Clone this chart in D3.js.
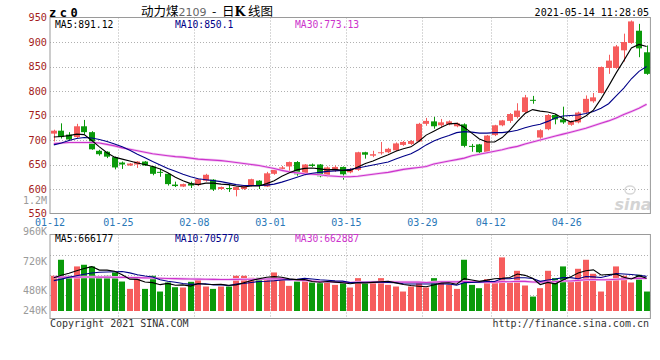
<!DOCTYPE html>
<html><head><meta charset="utf-8">
<script src="https://cdn.jsdelivr.net/npm/d3@7"></script>
<style>
html,body{margin:0;padding:0;background:#fff;}
svg{display:block;}
</style></head><body>
<svg id="chart" width="660" height="360"></svg>
<script>
// ---------------- data ----------------
const dates = ["01-12","01-13","01-14","01-15","01-18","01-19","01-20","01-21","01-22",
"01-25","01-26","01-27","01-28","01-29","02-01","02-02","02-03","02-04","02-05",
"02-08","02-09","02-10","02-18","02-19","02-22","02-23","02-24","02-25","02-26",
"03-01","03-02","03-03","03-04","03-05","03-08","03-09","03-10","03-11","03-12",
"03-15","03-16","03-17","03-18","03-19","03-22","03-23","03-24","03-25","03-26",
"03-29","03-30","03-31","04-01","04-02","04-06","04-07","04-08","04-09",
"04-12","04-13","04-14","04-15","04-16","04-19","04-20","04-21","04-22","04-23",
"04-26","04-27","04-28","04-29","04-30","05-06","05-07","05-10","05-11","05-12","05-14"];
const open  = [713,719,711,706,728,716,678,676,665,654,648,650,656,646,635,631,609,605,611,608,617,619,600,602,598,600,607,617,605,631,641,646,655,630,650,650,626,638,645,634,639,675,668,673,675,679,690,692,697,733,738,730,732,728,732,688,691,674,710,730,739,747,757,782,705,722,751,742,731,736,756,779,796,847,847,883,898,923,879];
const high  = [721,734,716,733,741,718,680,677,666,656,653,657,657,647,641,632,615,611,615,621,631,620,605,609,605,608,621,618,635,640,647,656,657,651,652,651,646,648,646,643,676,676,678,696,684,695,698,700,735,745,747,743,740,736,734,692,692,710,731,741,755,775,792,790,722,753,753,768,740,758,791,796,850,874,894,917,944,937,893];
const low   = [697,703,699,704,712,680,668,663,640,641,647,643,647,628,625,607,604,604,602,606,615,596,598,594,585,598,605,600,604,629,637,635,627,628,645,624,624,635,619,632,637,662,665,670,673,677,688,690,696,729,723,726,730,726,685,676,673,672,708,728,735,744,755,774,697,720,732,733,729,734,754,776,795,835,845,860,896,869,833];
const close = [719,706,701,728,716,681,671,666,644,650,652,656,648,631,633,610,606,610,607,620,629,599,604,601,604,607,620,607,632,639,644,655,630,650,647,626,644,645,630,641,675,670,671,675,682,693,696,698,733,739,728,736,738,734,688,686,675,709,730,740,753,760,787,780,720,751,742,736,738,756,784,787,849,862,891,900,942,887,835];
const volume = [718000,1045000,718000,909000,943000,909000,690000,718000,786000,601000,451000,670000,451000,718000,397000,581000,485000,479000,595000,670000,499000,451000,499000,499000,718000,718000,677000,677000,649000,786000,649000,513000,601000,663000,581000,567000,595000,533000,601000,479000,670000,567000,601000,670000,533000,499000,397000,499000,601000,479000,670000,601000,533000,451000,1045000,533000,465000,649000,601000,1093000,601000,820000,520000,294000,465000,820000,670000,909000,615000,861000,1045000,759000,397000,656000,909000,718000,581000,738000,397000];
const ma5  = [706,707,709,712,711,699,686,674,665,661,657,653,650,646,641,633,624,617,611,609,612,612,610,609,606,604,606,606,611,617,626,633,639,642,643,641,639,640,638,638,645,652,657,664,670,677,682,686,697,710,718,726,733,734,726,714,702,696,696,705,720,738,754,762,759,757,753,744,737,741,749,761,784,810,837,862,888,895,891];
const ma10 = [690,694,699,703,705,704,701,697,692,686,679,671,664,656,649,642,636,630,625,621,619,617,615,612,609,607,607,607,608,610,614,619,624,629,632,634,636,637,638,640,643,646,649,652,655,661,667,672,680,690,698,704,709,715,717,716,714,714,715,715,717,720,725,729,732,738,745,749,750,751,754,758,765,774,790,806,825,840,850];
const ma30 = [693,694,695,695,695,695,694,691,688,684,681,678,675,672,670,668,666,665,663,661,660,659,658,656,654,652,650,648,645,642,638,635,633,631,630,629,627,626,625,625,626,628,630,632,634,637,640,642,644,646,651,654,657,660,663,668,671,674,677,680,684,687,692,696,700,704,708,712,716,720,724,729,734,739,745,752,758,765,773];
const volMa5  = [680,730,770,820,867,905,834,834,809,741,649,645,592,578,537,563,526,532,507,562,546,539,543,524,533,577,622,658,688,701,688,655,640,642,601,585,601,588,575,555,576,570,584,597,608,574,540,520,506,495,529,570,577,547,660,633,605,629,659,668,682,753,727,666,540,584,554,632,696,775,820,838,735,744,753,688,652,720,666].map(v => v * 1000);
const volMa10 = [620,650,690,720,750,775,790,795,800,804,777,740,713,694,639,606,586,562,543,550,555,533,538,516,548,562,581,601,606,617,633,639,649,665,651,637,628,614,609,578,581,586,586,586,582,575,555,552,552,552,552,555,549,527,578,581,588,603,603,664,658,679,678,663,604,633,654,680,681,658,702,696,684,720,764,754,745,728,706].map(v => v * 1000);
const volMa30 = [690,690,690,691,692,692,691,690,688,686,683,680,676,672,668,664,660,656,652,649,646,644,643,643,644,646,648,650,653,657,655,637,633,625,613,601,598,592,586,582,589,586,591,589,594,591,588,589,589,582,588,593,594,593,604,597,590,589,588,598,596,607,604,592,588,596,599,611,612,624,637,643,637,636,649,656,662,670,663].map(v => v * 1000);

const priceTicks = [950,900,850,800,750,700,650,600,550];
const dateTicks = ["01-12","01-25","02-08","03-01","03-15","03-29","04-12","04-26"];
const volTickLabels = ["1.2M","960K","720K","480K","240K"];
const priceLegend = ["MA5:891.12","MA10:850.1","MA30:773.13"];
const volLegend = ["MA5:666177","MA10:705770","MA30:662887"];
const titleCode = "zc0";
const titleName = ["动力煤","2109","  -  日","K"," 线图"];
const stamp = "2021-05-14 11:28:05";

// ---------------- layout ----------------
const L = 50, R = 650.4;
const mainTop = 17.5, mainBot = 213.5;
const volTop = 234.5, volBot = 318.5, volBase = 311;
const UP = "#f65d5d", DOWN = "#0a9a0a";
const C5 = "#000000", C10 = "#000088", C30 = "#cc33cc";
const mono = "'DejaVu Sans Mono','Liberation Mono',monospace";

const svg = d3.select("#chart");
const idx = d3.range(close.length);

const x = d3.scaleBand().domain(idx).range([L, R]).paddingInner(0.2).paddingOuter(0.1);
const bw = x.bandwidth();
const step = x.step();
const cx = i => x(i) + bw / 2;
const slot = i => x(i) - (step - bw) / 2;   // left edge of a day's slot
const y = d3.scaleLinear().domain([550, 950]).range([mainBot, mainTop]);
const yV = d3.scaleLinear().domain([0, 1560000]).range([volBase, volTop]);

const gridC = "#b0b0b0";
const tickIdx = dateTicks.map(t => dates.indexOf(t));

// ---------- main panel grid ----------
const gMain = svg.append("g");
gMain.selectAll(".hg").data(priceTicks.filter(v => v > 550 && v < 950)).join("line")
  .attr("x1", L).attr("x2", R).attr("y1", d => Math.round(y(d)) + 0.5).attr("y2", d => Math.round(y(d)) + 0.5)
  .attr("stroke", gridC).attr("stroke-dasharray", "1,2");
gMain.selectAll(".vg").data(tickIdx.filter(i => i > 0)).join("line")
  .attr("x1", d => Math.round(slot(d)) + 0.5).attr("x2", d => Math.round(slot(d)) + 0.5)
  .attr("y1", mainTop).attr("y2", mainBot)
  .attr("stroke", gridC).attr("stroke-dasharray", "1,2");

// sina watermark
const wm = svg.append("g").attr("fill", "#d4d4d4");
wm.append("text").attr("x", 633).attr("y", 210).attr("text-anchor", "middle")
  .attr("font-family", "'DejaVu Sans',sans-serif").attr("font-size", 16).attr("font-style", "italic")
  .attr("font-weight", "bold").text("sina");
wm.append("ellipse").attr("cx", 630).attr("cy", 190).attr("rx", 5).attr("ry", 4)
  .attr("fill", "none").attr("stroke", "#d8d8d8").attr("stroke-width", 1.5);

// ---------- candles ----------
const gC = svg.append("g");
const col = i => close[i] >= open[i] ? UP : DOWN;
gC.selectAll("line.wick").data(idx).join("line").attr("class", "wick")
  .attr("x1", i => Math.round(cx(i)) + 0.5).attr("x2", i => Math.round(cx(i)) + 0.5)
  .attr("y1", i => y(high[i])).attr("y2", i => y(low[i]))
  .attr("stroke", col).attr("stroke-width", 1);
gC.selectAll("rect.body").data(idx).join("rect").attr("class", "body")
  .attr("x", i => Math.round(cx(i) - bw / 2)).attr("width", Math.round(bw))
  .attr("y", i => y(Math.max(open[i], close[i])))
  .attr("height", i => Math.max(1, Math.abs(y(open[i]) - y(close[i]))))
  .attr("fill", col);

// ---------- MA lines ----------
const lineP = d3.line().x((d, i) => cx(i)).y(d => y(d));
svg.append("path").attr("d", lineP(ma30)).attr("fill", "none").attr("stroke", "#f3c8f3").attr("stroke-width", 2.6);
svg.append("path").attr("d", lineP(ma30)).attr("fill", "none").attr("stroke", C30).attr("stroke-width", 1.1);
svg.append("path").attr("d", lineP(ma10)).attr("fill", "none").attr("stroke", C10).attr("stroke-width", 1.1);
svg.append("path").attr("d", lineP(ma5)).attr("fill", "none").attr("stroke", C5).attr("stroke-width", 1.1);

// main border
svg.append("rect").attr("x", L).attr("y", mainTop).attr("width", R - L).attr("height", mainBot - mainTop)
  .attr("fill", "none").attr("stroke", "#9a9a9a");

// ---------- main axis labels ----------
svg.append("g").selectAll("text").data(priceTicks).join("text")
  .attr("x", 47).attr("y", d => y(d) - (d === 550 ? 0.5 : 0)).attr("dy", "0.35em").attr("text-anchor", "end")
  .attr("font-family", mono).attr("font-size", 10.2).attr("fill", "#a41c1c").text(d => d);
svg.append("text").attr("x", 47).attr("y", 200).attr("dy", "0.35em").attr("text-anchor", "end")
  .attr("font-family", mono).attr("font-size", 10).attr("fill", "#9a9a9a").text(volTickLabels[0]);

svg.append("g").selectAll("text").data(tickIdx).join("text")
  .attr("x", d => slot(d)).attr("y", 222.5).attr("dy", "0.35em").attr("text-anchor", "middle")
  .attr("font-family", mono).attr("font-size", 10).attr("fill", "#2a78b8").text((d, k) => dateTicks[k]);

// legend in main panel
const legX = [55, 175, 295];
const legC = [C5, C10, C30];
svg.append("g").selectAll("text").data(priceLegend).join("text")
  .attr("x", (d, k) => legX[k]).attr("y", 24.5).attr("dy", "0.35em")
  .attr("font-family", mono).attr("font-size", 9.7).attr("fill", (d, k) => legC[k]).text(d => d);

// header
svg.append("text").attr("x", 49).attr("y", 12.5).attr("dy", "0.35em")
  .attr("font-family", mono).attr("font-size", 12).attr("font-weight", "bold").attr("letter-spacing", 3.5)
  .attr("fill", "#000").text(titleCode);
const tt = svg.append("text").attr("x", 207).attr("y", 11.5).attr("dy", "0.35em").attr("text-anchor", "middle")
  .attr("style", "white-space:pre")
  .attr("font-family", "'Noto Sans CJK SC',sans-serif").attr("font-size", 12.5).attr("fill", "#000");
tt.append("tspan").text(titleName[0]);
tt.append("tspan").attr("fill", "#666").attr("font-family", "'DejaVu Sans',sans-serif").attr("font-size", 11).text(titleName[1]);
tt.append("tspan").text(titleName[2]);
tt.append("tspan").attr("font-weight", "bold").attr("font-family", "'DejaVu Serif',serif").text(titleName[3]);
tt.append("tspan").text(titleName[4]);
svg.append("text").attr("x", 649).attr("y", 12.5).attr("dy", "0.35em").attr("text-anchor", "end")
  .attr("font-family", mono).attr("font-size", 10).attr("fill", "#000").text(stamp);

// ---------- volume panel ----------
const volGridY = [255, 275, 295];
svg.append("g").selectAll("line").data(volGridY).join("line")
  .attr("x1", L).attr("x2", R).attr("y1", d => d + 0.5).attr("y2", d => d + 0.5)
  .attr("stroke", gridC).attr("stroke-dasharray", "1,2");
svg.append("g").selectAll("line").data(tickIdx.filter(i => i > 0)).join("line")
  .attr("x1", d => Math.round(slot(d)) + 0.5).attr("x2", d => Math.round(slot(d)) + 0.5)
  .attr("y1", volTop).attr("y2", volBot)
  .attr("stroke", gridC).attr("stroke-dasharray", "1,2");

svg.append("g").selectAll("rect").data(idx).join("rect")
  .attr("x", i => Math.round(cx(i) - bw / 2)).attr("width", Math.round(bw))
  .attr("y", i => yV(volume[i])).attr("height", i => volBase - yV(volume[i]))
  .attr("fill", col);

const lineV = d3.line().x((d, i) => cx(i)).y(d => yV(d));
svg.append("path").attr("d", lineV(volMa30)).attr("fill", "none").attr("stroke", "#f3c8f3").attr("stroke-width", 2.6);
svg.append("path").attr("d", lineV(volMa30)).attr("fill", "none").attr("stroke", C30).attr("stroke-width", 1.1);
svg.append("path").attr("d", lineV(volMa10)).attr("fill", "none").attr("stroke", C10).attr("stroke-width", 1.1);
svg.append("path").attr("d", lineV(volMa5)).attr("fill", "none").attr("stroke", C5).attr("stroke-width", 1.1);

svg.append("rect").attr("x", L).attr("y", volTop).attr("width", R - L).attr("height", volBot - volTop)
  .attr("fill", "none").attr("stroke", "#9a9a9a");

const volLabelY = [231.5, 261.5, 290.5, 310.5];
svg.append("g").selectAll("text").data(volTickLabels.slice(1)).join("text")
  .attr("x", 47).attr("y", (d, k) => volLabelY[k]).attr("dy", "0.35em").attr("text-anchor", "end")
  .attr("font-family", mono).attr("font-size", 10).attr("fill", "#9a9a9a").text(d => d);

svg.append("g").selectAll("text").data(volLegend).join("text")
  .attr("x", (d, k) => legX[k]).attr("y", 238.5).attr("dy", "0.35em")
  .attr("font-family", mono).attr("font-size", 9.7).attr("fill", (d, k) => legC[k]).text(d => d);

// footer
svg.append("text").attr("x", 50).attr("y", 323.5).attr("dy", "0.35em")
  .attr("font-family", mono).attr("font-size", 10).attr("fill", "#333").text("Copyright 2021 SINA.COM");
svg.append("text").attr("x", 649).attr("y", 323.5).attr("dy", "0.35em").attr("text-anchor", "end")
  .attr("font-family", mono).attr("font-size", 10).attr("fill", "#333").text("http://finance.sina.com.cn");
</script>
</body></html>
